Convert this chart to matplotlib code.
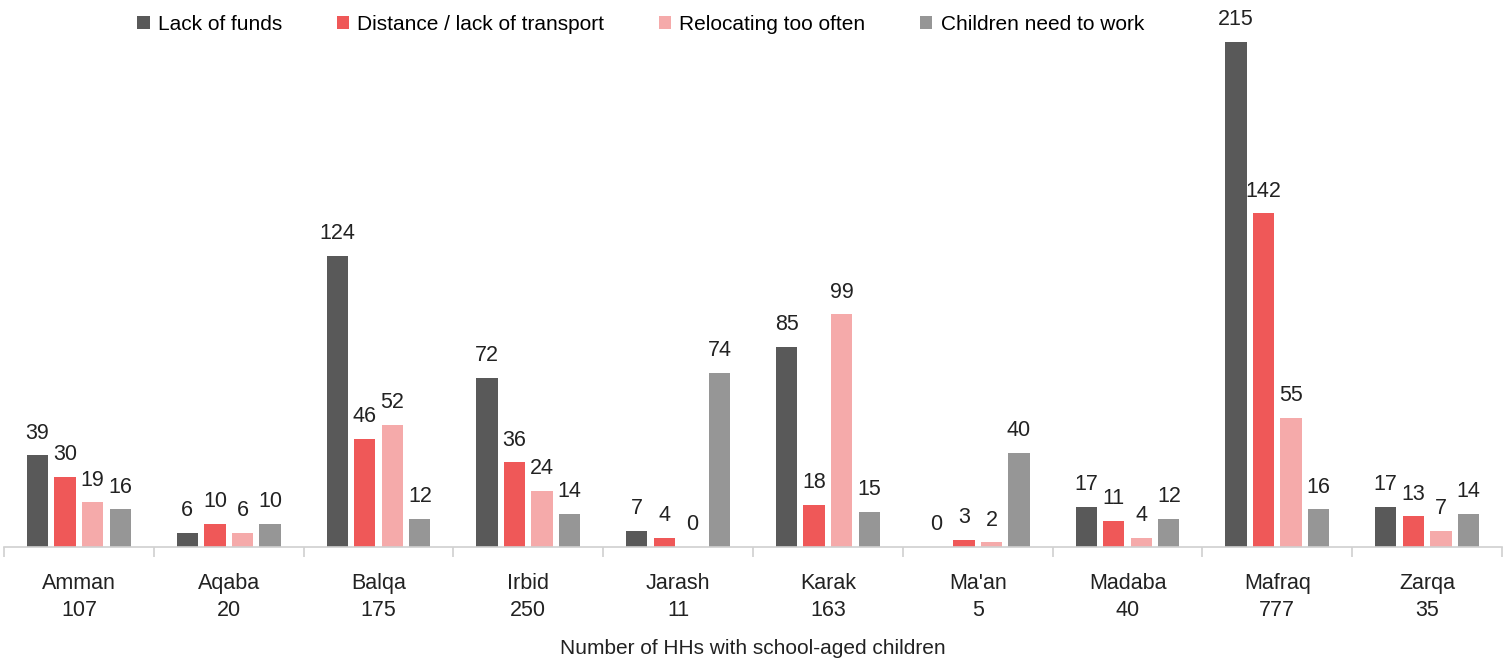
import numpy as np
import matplotlib.pyplot as plt
from matplotlib.ticker import FixedLocator

plt.rcParams['font.family'] = ['Liberation Sans', 'DejaVu Sans']

regions = ['Amman', 'Aqaba', 'Balqa', 'Irbid', 'Jarash', 'Karak', "Ma'an", 'Madaba', 'Mafraq', 'Zarqa']
hh_counts = [107, 20, 175, 250, 11, 163, 5, 40, 777, 35]
series_names = ['Lack of funds', 'Distance / lack of transport', 'Relocating too often', 'Children need to work']
lack_funds = [39, 6, 124, 72, 7, 85, 0, 17, 215, 17]
distance = [30, 10, 46, 36, 4, 18, 3, 11, 142, 13]
relocating = [19, 6, 52, 24, 0, 99, 2, 4, 55, 7]
work = [16, 10, 12, 14, 74, 15, 40, 12, 16, 14]
colors = ['#595959', '#EF5858', '#F5AAAA', '#969696']

fig = plt.figure(figsize=(15.06, 6.64), dpi=100)
ax = fig.add_axes([4 / 1506, 1 - 547 / 664, 1498 / 1506, 517 / 664])

x = np.arange(len(regions))
width = 0.142
step = 0.184
for i, (vals, name, c) in enumerate(zip([lack_funds, distance, relocating, work], series_names, colors)):
    pos = x + (i - 1.5) * step
    ax.bar(pos, vals, width, color=c, label=name, zorder=2)
    for p, v in zip(pos, vals):
        ax.text(p, v + 5, str(v), ha='center', va='bottom', fontsize=15.5, color='#222222')

ax.set_xlim(-0.5, len(regions) - 0.5)
ax.set_ylim(0, 220)
ax.set_yticks([])
for s in ['top', 'right', 'left']:
    ax.spines[s].set_visible(False)
ax.spines['bottom'].set_color('#d0d0d0')
ax.spines['bottom'].set_linewidth(1.2)

ax.set_xticks(x)
ax.set_xticklabels([f'{r}\n{n}' for r, n in zip(regions, hh_counts)], fontsize=15.5, color='#222222', linespacing=1.35)
ax.tick_params(axis='x', which='major', length=0, pad=19)
ax.xaxis.set_minor_locator(FixedLocator(np.arange(-0.5, len(regions), 1.0)))
ax.tick_params(axis='x', which='minor', length=7, color='#d0d0d0', width=1.2)
fig.text(0.5, 1 - 648 / 664, 'Number of HHs with school-aged children', ha='center', va='center',
         fontsize=15, color='#222222')

ax.legend(loc='upper center', bbox_to_anchor=(0.425, 1.065), ncol=4, frameon=False, fontsize=15,
          handlelength=0.6, handleheight=0.6, handletextpad=0.4, columnspacing=2.6)

fig.savefig('out.png', dpi=100)
